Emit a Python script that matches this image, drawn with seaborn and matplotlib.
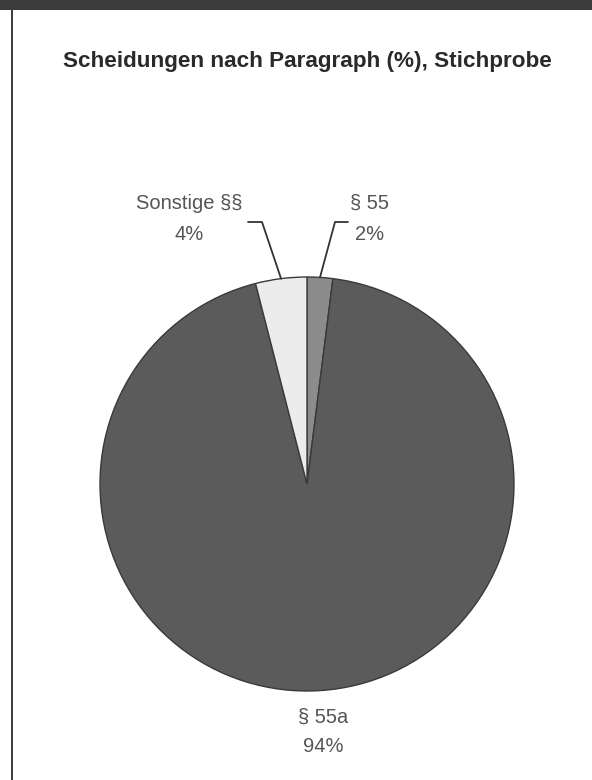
import numpy as np
import matplotlib
matplotlib.use("Agg")
import matplotlib.pyplot as plt
import seaborn as sns

sns.set_theme(style="white")
plt.rcParams['font.family'] = ['Liberation Sans', 'DejaVu Sans']

categories = ["§ 55", "§ 55a", "Sonstige §§"]
values = [2, 94, 4]
colors = ["#8c8c8c", "#5b5b5b", "#ececec"]

W, H = 592, 780
fig = plt.figure(figsize=(W / 100, H / 100), dpi=100)
fig.patch.set_facecolor("white")

# frame decorations
fig.add_artist(plt.Rectangle((0, (H - 10) / H), 1, 10 / H, transform=fig.transFigure,
                             facecolor="#3b3b3b", edgecolor="none"))
fig.add_artist(plt.Rectangle((11 / W, 0), 2 / W, (H - 10) / H, transform=fig.transFigure,
                             facecolor="#3f3f3f", edgecolor="none"))

fig.text(307 / W, 1 - 62 / H, "Scheidungen nach Paragraph (%), Stichprobe",
         ha="center", va="center", fontsize=16.2, fontweight="bold", color="#2a2a2a")

cx, cy, R = 307, 484, 207
ax = fig.add_axes([(cx - R) / W, (H - cy - R) / H, 2 * R / W, 2 * R / H])

wedges, _ = ax.pie(values, colors=colors, startangle=90, counterclock=False, radius=1,
                   wedgeprops=dict(edgecolor="#3a3a3a", linewidth=1.0))
ax.set_xlim(-1, 1)
ax.set_ylim(-1, 1)
ax.set_aspect("equal")
ax.axis("off")

def px(x, y):
    return (x - cx) / R, (cy - y) / R

tcolor = "#555555"
lab = {
    "§ 55": (370, 219, 1.85),
    "Sonstige §§": (189, 219, 1.85),
    "§ 55a": (323, 732, 1.65),
}
for w, name, v in zip(wedges, categories, values):
    text = f"{name}\n{v}%"
    mid = np.deg2rad((w.theta1 + w.theta2) / 2)
    lx, ly, ls = lab[name]
    x, y = px(lx, ly)
    ax.text(x, y, text, ha="center", va="center", fontsize=14.5, color=tcolor,
            linespacing=ls, clip_on=False)
    if name == "§ 55a":
        continue
    ex, ey = np.cos(mid), np.sin(mid)
    if name == "§ 55":
        p0 = px(348, 222); p1 = px(335, 222)
    else:
        p0 = px(248, 222); p1 = px(262, 222)
    ax.plot([p0[0], p1[0], ex], [p0[1], p1[1], ey], color="#333333", lw=1.3,
            clip_on=False)

fig.savefig("out.png", dpi=100)
